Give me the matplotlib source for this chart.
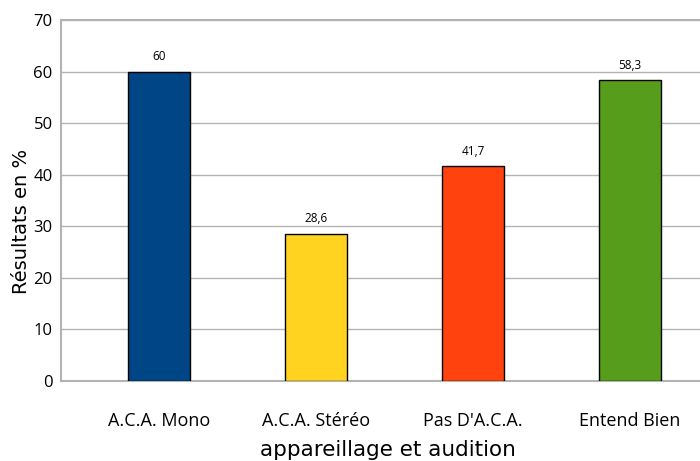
import matplotlib
matplotlib.use("Agg")
import matplotlib.pyplot as plt

categories = ["A.C.A. Mono", "A.C.A. Stéréo", "Pas D'A.C.A.", "Entend Bien"]
values = [60, 28.6, 41.7, 58.3]
labels = ["60", "28,6", "41,7", "58,3"]
colors = ["#004586", "#FFD320", "#FF420E", "#579D1C"]

plt.rcParams["font.family"] = ["Open Sans", "DejaVu Sans"]

fig = plt.figure(figsize=(7.0, 4.61), dpi=100)
ax = fig.add_axes([0.087, 0.1735, 0.913, 0.783])

x = range(len(categories))
ax.bar(x, values, width=0.395, color=colors, edgecolor="black", linewidth=1.0, zorder=3)
for xi, v, lab in zip(x, values, labels):
    ax.text(xi, v + 1.6, lab, ha="center", va="bottom", fontsize=8.5)

ax.set_ylim(0, 70)
ax.set_xlim(-0.624, 3.446)
ax.set_yticks(range(0, 71, 10))
ax.set_xticks(list(x))
ax.set_xticklabels(categories, fontsize=13)
ax.tick_params(axis="y", labelsize=12, length=0, pad=6)
ax.tick_params(axis="x", length=0, pad=22)
ax.yaxis.grid(True, color="#b3b3b3", linewidth=1.0, zorder=0)
for side in ["left", "bottom", "top"]:
    ax.spines[side].set_color("#b3b3b3")
    ax.spines[side].set_linewidth(1.5)
ax.spines["right"].set_visible(False)

# titres des axes, placés comme dans l'original
fig.text(22 / 700, 1 - 221 / 461, "Résultats en %", rotation=90, ha="center", va="center",
         fontsize=14, family="DejaVu Sans")
fig.text(388 / 700, 1 - 450 / 461, "appareillage et audition", ha="center", va="center",
         fontsize=15.5, family="DejaVu Sans")

fig.savefig("out.png", dpi=100)
